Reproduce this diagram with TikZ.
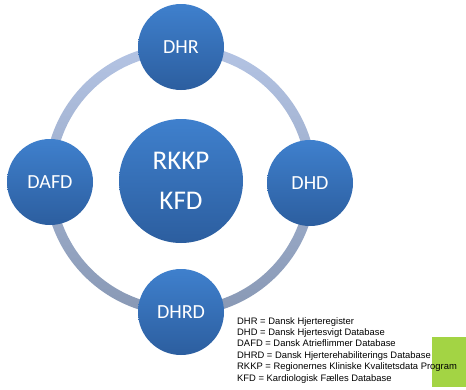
\documentclass[tikz,border=0pt]{standalone}
\usepackage{fontspec}
\setmainfont{Carlito}
\newfontfamily\legendfont{Liberation Sans}
\begin{document}
\begin{tikzpicture}[x=1pt,y=-1pt,
  bubble/.style={circle, minimum size=#1, inner sep=0pt, top color=circTop, bottom color=circBot, text=white, font=\fontsize{20}{22}\selectfont},
  legend/.style={anchor=north west, inner sep=0pt, align=left, font=\legendfont\fontsize{9.4}{11.4}\selectfont}]
\definecolor{circTop}{HTML}{3F80CD}
\definecolor{circBot}{HTML}{2C5E9F}
\definecolor{ringTop}{HTML}{B4C4E4}
\definecolor{ringBot}{HTML}{8898B4}
\definecolor{greenbox}{HTML}{A3D444}
\useasboundingbox (0,0) rectangle (466,389);
\coordinate (c) at (180.5,180);
\shade[top color=ringTop, bottom color=ringBot, even odd rule] (c) circle[radius=136] (c) circle[radius=126];
\node[bubble=86pt] (dhr) at (181,47) {DHR};
\node[bubble=86pt] (dhd) at (310,183) {DHD};
\node[bubble=86pt] (dafd) at (50,182) {DAFD};
\node[bubble=86pt] (dhrd) at (181,312) {DHRD};
\node[bubble=124pt, align=center, font=\fontsize{27}{40}\selectfont] (center) at (181,181) {RKKP\\KFD};
\fill[greenbox] (432,337) rectangle (466,387);
\node[legend] (leg) at (237,317) {DHR = Dansk Hjerteregister\\DHD = Dansk Hjertesvigt Database\\DAFD = Dansk Atrieflimmer Database\\DHRD = Dansk Hjerterehabiliterings Database\\RKKP = Regionernes Kliniske Kvalitetsdata Program\\KFD = Kardiologisk Fælles Database};
\end{tikzpicture}
\end{document}
